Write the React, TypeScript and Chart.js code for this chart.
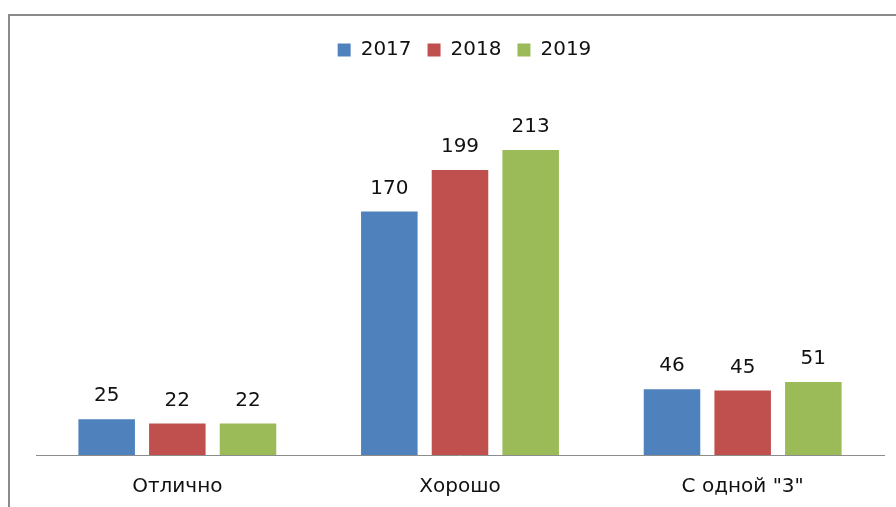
import React, { useEffect, useRef } from "react";
import { Chart, registerables } from "chart.js";

Chart.register(...registerables);

const categories = ["Отлично", "Хорошо", "С одной \"3\""];
const seriesNames = ["2017", "2018", "2019"];
const values2017 = [25, 170, 46];
const values2018 = [22, 199, 45];
const values2019 = [22, 213, 51];
const seriesColors = ["#4F81BD", "#C0504D", "#9BBB59"];
const yMax = 250;

const FONT = "'DejaVu Sans', Verdana, sans-serif";
const FS = 20;

const dataLabels = {
  id: "dataLabels",
  afterDatasetsDraw(chart: any) {
    const { ctx } = chart;
    ctx.save();
    ctx.font = `${FS}px ${FONT}`;
    ctx.fillStyle = "#111";
    ctx.textAlign = "center";
    ctx.textBaseline = "middle";
    chart.data.datasets.forEach((ds: any, i: number) => {
      const meta = chart.getDatasetMeta(i);
      meta.data.forEach((el: any, j: number) => {
        ctx.fillText(String(ds.data[j]), el.x, el.y - 23);
      });
    });
    ctx.restore();
  },
};

const legendSpacer = {
  id: "legendSpacer",
  afterInit(chart: any) {
    const lg = chart.legend;
    if (!lg || lg.__patched) return;
    const orig = lg.fit.bind(lg);
    lg.fit = function () {
      orig();
      this.height += 27;
    };
    lg.__patched = true;
  },
};

export default function App() {
  const ref = useRef<HTMLCanvasElement | null>(null);
  useEffect(() => {
    if (!ref.current) return;
    const allValues = [values2017, values2018, values2019];
    const chart = new Chart(ref.current, {
      type: "bar",
      data: {
        labels: categories,
        datasets: seriesNames.map((name, i) => ({
          label: name,
          data: allValues[i],
          backgroundColor: seriesColors[i],
          borderWidth: 0,
          categoryPercentage: 0.75,
          barPercentage: 0.8,
        })),
      },
      options: {
        animation: false,
        responsive: false,
        devicePixelRatio: 1,
        font: { family: FONT, size: FS },
        layout: { padding: { left: 26, right: 27, top: 8, bottom: 8 } },
        plugins: {
          legend: {
            position: "top",
            labels: {
              boxWidth: 13,
              boxHeight: 13,
              padding: 16,
              color: "#111",
              font: { family: FONT, size: FS },
            },
          },
          tooltip: { enabled: false },
          title: { display: false },
        },
        scales: {
          x: {
            grid: { display: false, drawTicks: false },
            border: { display: true, color: "#8c8c8c", width: 1 },
            ticks: {
              color: "#111",
              padding: 20,
              font: { family: FONT, size: FS },
              maxRotation: 0,
              autoSkip: false,
            },
          },
          y: {
            position: "right",
            min: 0,
            max: yMax,
            grid: { display: false, drawTicks: false },
            border: { display: false },
            ticks: { display: false },
            afterFit(scale: any) {
              scale.width = 9;
            },
          },
        },
      },
      plugins: [dataLabels, legendSpacer],
    } as any);
    return () => chart.destroy();
  }, []);

  return (
    <div
      style={{
        position: "fixed",
        left: 0,
        top: 0,
        width: 896,
        height: 507,
        overflow: "hidden",
        background: "#fff",
      }}
    >
      <div
        style={{
          position: "absolute",
          left: 8,
          top: 14,
          width: 910,
          height: 520,
          border: "2px solid #8a8a8a",
          background: "#fff",
        }}
      >
        <canvas ref={ref} width={910} height={511} style={{ display: "block" }} />
      </div>
    </div>
  );
}
